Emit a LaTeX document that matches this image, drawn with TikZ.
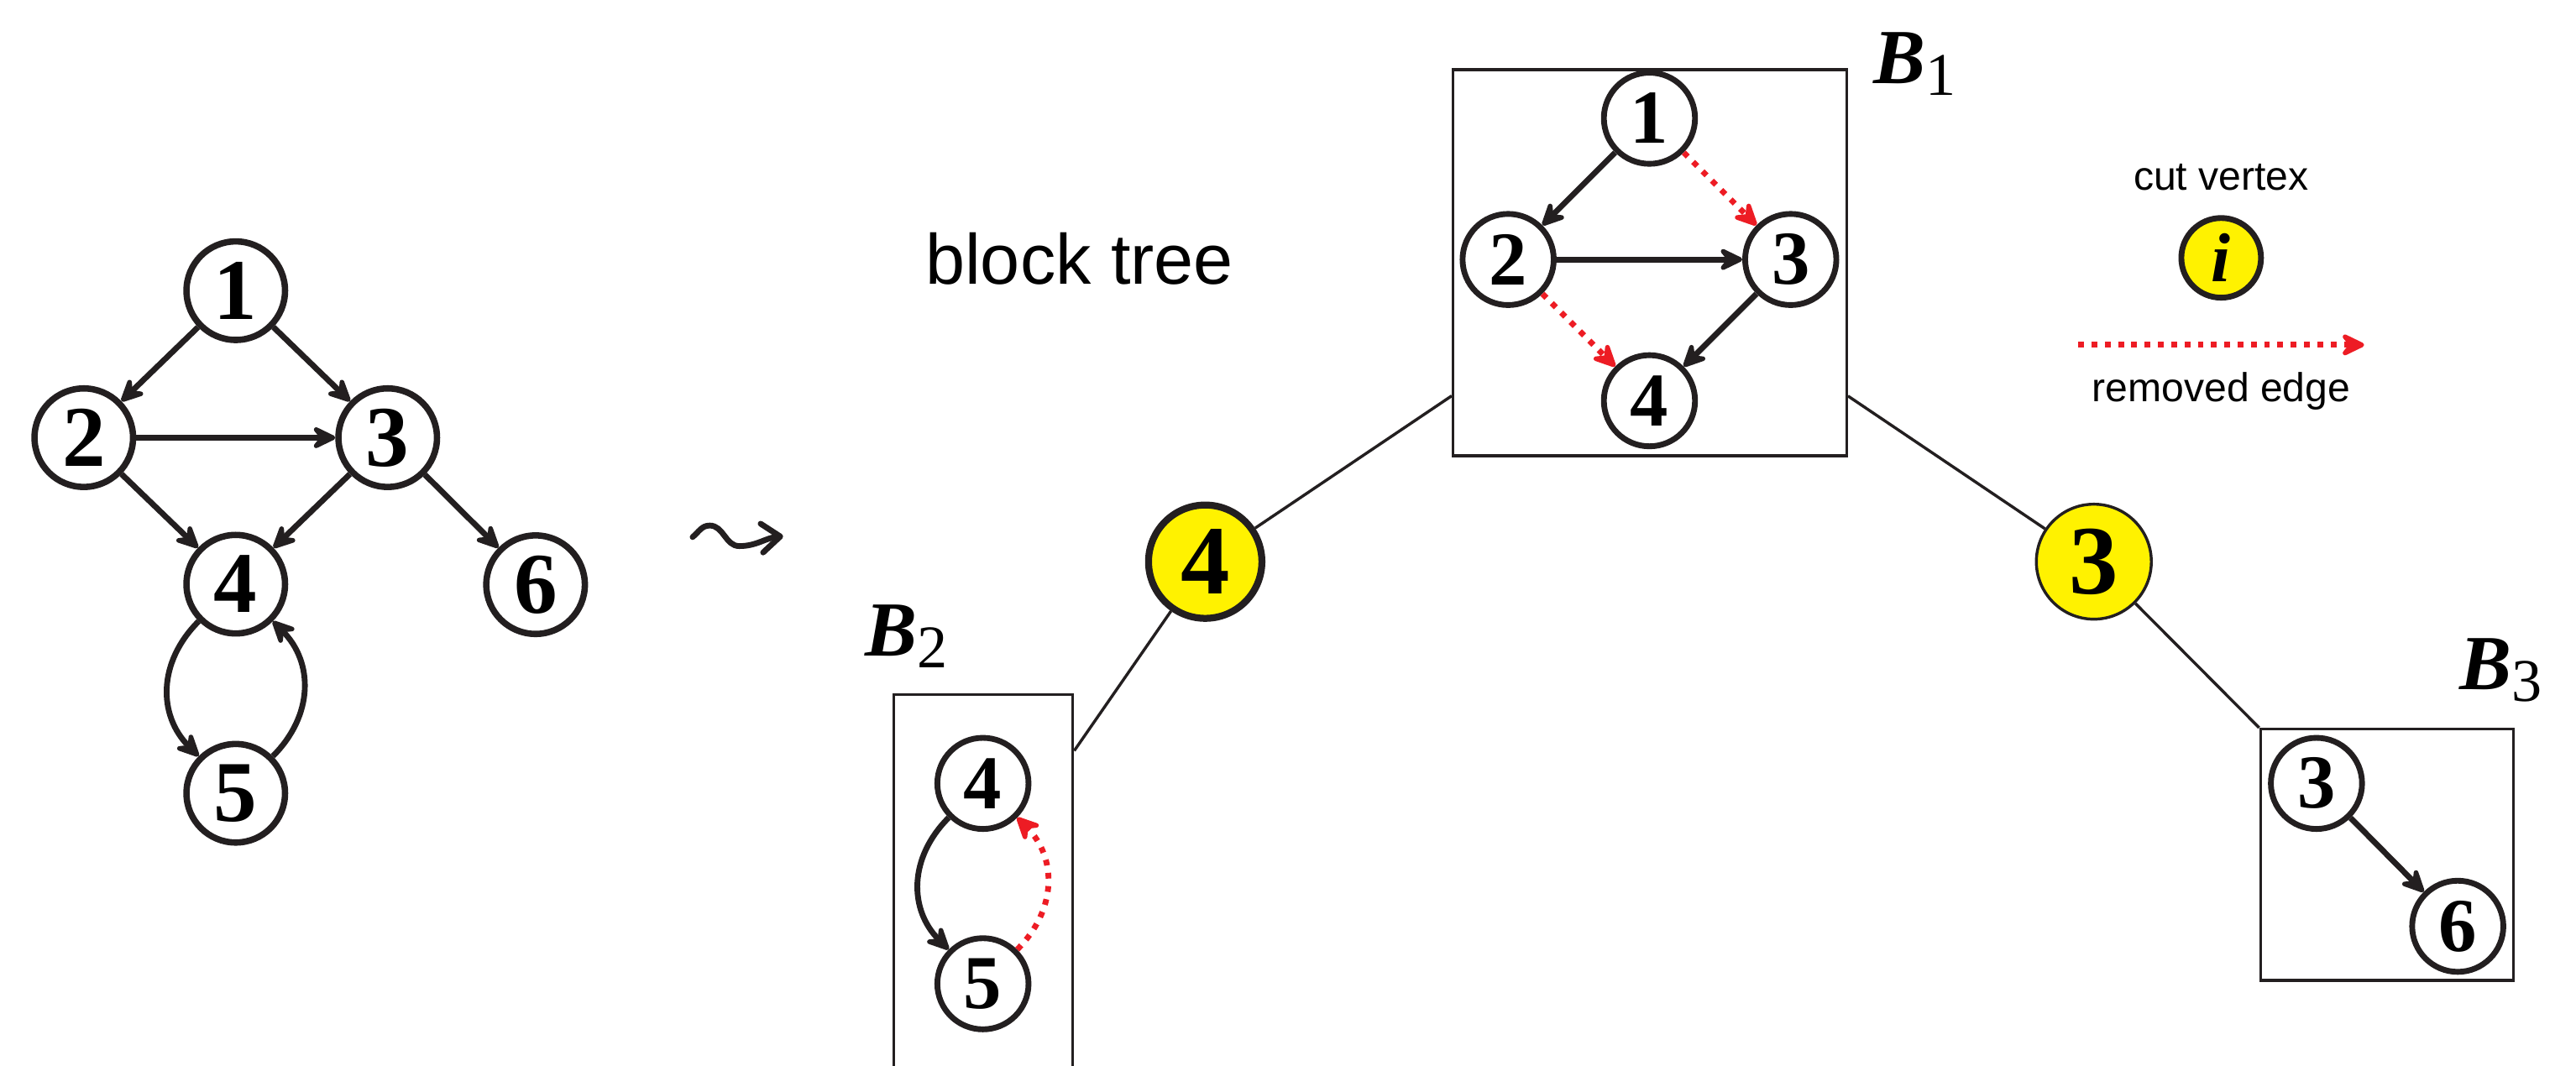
\documentclass[tikz,border=0pt]{standalone}
\usepackage{fontspec}
\setmainfont{Liberation Serif}
\setsansfont{Liberation Sans}
\usepackage{tikz}
\usetikzlibrary{arrows.meta}
\definecolor{ink}{HTML}{231F20}
\definecolor{cutyellow}{HTML}{FFF200}
\definecolor{cutred}{HTML}{ED1C24}
\newcommand*{\blk}[1]{\textbf{\textit{B}}\raisebox{-0.07cm}{\fontsize{10.5}{10}\selectfont #1}}
\tikzset{
	vertex/.style={
		circle,
		minimum size=0.60cm,
		inner sep=0pt,
		draw=ink,
		fill=white,
		line width=1.1pt,
		font=\bfseries\fontsize{15}{15}\selectfont
	},
	bvertex/.style={
		vertex,
		minimum size=0.555cm,
		line width=1pt,
		font=\bfseries\fontsize{13.2}{13}\selectfont
	},
	cutvertex/.style n args={2}{
		circle,
		minimum size=#1,
		inner sep=0pt,
		draw=ink,
		fill=cutyellow,
		line width=#2,
		font=\bfseries\fontsize{17}{17}\selectfont
	},
	bbox/.style n args={2}{
		draw=ink,
		line width=0.5pt,
		minimum width=#1,
		minimum height=#2,
		inner sep=0pt
	},
	arc/.style={
		draw=ink,
		line width=1pt,
		-{Stealth[length=5.2pt,width=5pt,inset=2pt,round]}
	},
	removed/.style={
		arc,
		draw=cutred,
		dash pattern=on 1pt off 1.3pt
	},
	squig/.style={
		draw=ink,
		line width=1pt,
		line cap=round,
		-{Straight Barb[length=3.2pt,width=5pt,round]}
	},
	treeedge/.style={draw=ink, line width=0.5pt},
	blabel/.style={anchor=base west, inner sep=0pt, font=\fontsize{13.5}{14}\selectfont},
	caption/.style={anchor=base, inner sep=0pt, font=\sffamily\fontsize{7}{8}\selectfont}
}
\begin{document}
\begin{tikzpicture}
	\useasboundingbox (0,0) rectangle (15.68,6.49);
	% graph
	\node[vertex] (g1) at (1.435,4.72) {1};
	\node[vertex] (g2) at (0.51,3.825) {2};
	\node[vertex] (g3) at (2.36,3.825) {3};
	\node[vertex] (g4) at (1.435,2.933) {4};
	\node[vertex] (g6) at (3.26,2.93) {6};
	\node[vertex] (g5) at (1.435,1.66) {5};
	\foreach \a/\b in {1/2,1/3,2/3,2/4,3/4,3/6}
		\draw[arc] (g\a) -- (g\b);
	\draw[arc] (g4) to[out=225,in=135,looseness=1.1] (g5);
	\draw[arc] (g5) to[out=45,in=-45,looseness=1.1] (g4);
	\coordinate (lt0) at (4.216,3.22);
	\coordinate (lt1) at (4.767,3.225);
	\draw[squig] (lt0) to[out=40,in=180] (4.32,3.29) to[out=0,in=180] (4.50,3.165) to[out=0,in=185] (lt1);
	\node[anchor=base, inner sep=0pt, font=\sffamily\fontsize{12.3}{14}\selectfont] (title) at (6.57,4.76) {block tree};
	% block tree
	\node[bbox={2.395cm}{2.351cm}] (b1) at (10.0425,4.8905) {};
	\node[bbox={1.09cm}{2.28cm}] (b2) at (5.985,1.12) {};
	\node[bbox={1.54cm}{1.53cm}] (b3) at (14.53,1.285) {};
	\node[cutvertex={0.69cm}{1.2pt}] (c4) at (7.336,3.07) {4};
	\node[cutvertex={0.70cm}{0.5pt}] (c3) at (12.745,3.07) {3};
	\draw[treeedge] (b1) -- (c4) -- (b2);
	\draw[treeedge] (b1) -- (c3) -- (b3.north west);
	\node[blabel] (l1) at (11.40,5.98) {\blk{1}};
	\node[blabel] (l2) at (5.26,2.495) {\blk{2}};
	\node[blabel] (l3) at (14.965,2.29) {\blk{3}};
	\node[bvertex] (p1) at (10.04,5.77) {1};
	\node[bvertex] (p2) at (9.18,4.91) {2};
	\node[bvertex] (p3) at (10.90,4.91) {3};
	\node[bvertex] (p4) at (10.04,4.05) {4};
	\draw[arc] (p1) -- (p2);
	\draw[removed] (p1) -- (p3);
	\draw[arc] (p2) -- (p3);
	\draw[removed] (p2) -- (p4);
	\draw[arc] (p3) -- (p4);
	\node[bvertex] (q4) at (5.983,1.72) {4};
	\node[bvertex] (q5) at (5.983,0.50) {5};
	\draw[arc] (q4) to[out=225,in=135,looseness=1.1] (q5);
	\draw[removed] (q5) to[out=45,in=-45,looseness=1.1] (q4);
	\node[bvertex] (r3) at (14.10,1.72) {3};
	\node[bvertex] (r6) at (14.96,0.85) {6};
	\draw[arc] (r3) -- (r6);
	% legend
	\node[caption] (cvtext) at (13.52,5.33) {cut vertex};
	\node[cutvertex={0.485cm}{1pt}, font=\bfseries\itshape\fontsize{12}{12}\selectfont] (cvmark) at (13.52,4.92) {i};
	\coordinate (rm0) at (12.65,4.39);
	\coordinate (rm1) at (14.39,4.39);
	\draw[removed] (rm0) -- (rm1);
	\node[caption] (rmtext) at (13.52,4.045) {removed edge};
\end{tikzpicture}
\end{document}
